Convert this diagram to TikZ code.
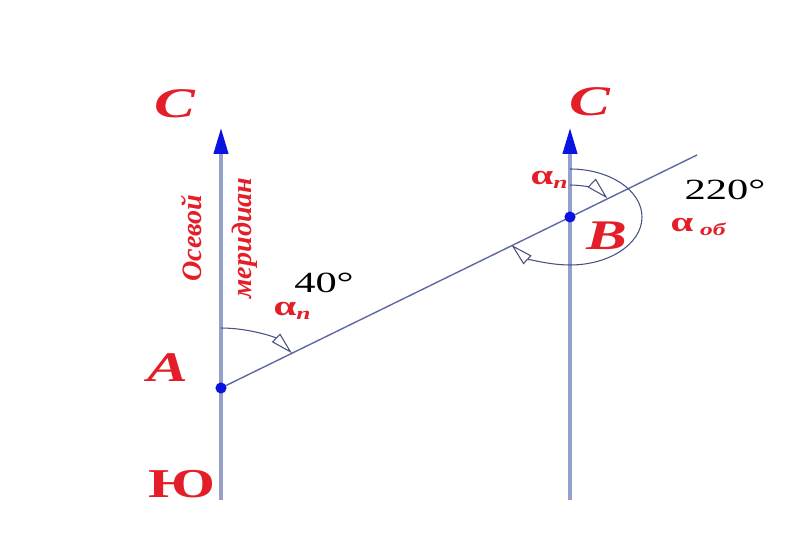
\documentclass[tikz,border=0pt]{standalone}
\usepackage{fontspec}
\setmainfont{Liberation Serif}
\usetikzlibrary{arrows.meta}
\definecolor{labred}{RGB}{228,30,40}
\definecolor{meridcol}{RGB}{150,160,205}
\definecolor{linecol}{RGB}{95,105,165}
\definecolor{arccol}{RGB}{70,80,130}
\definecolor{tipblue}{RGB}{10,20,225}
\newcommand{\subtxt}[1]{\raisebox{-4pt}{\fontsize{15}{15}\selectfont\bfseries\itshape #1}}
\begin{document}
\begin{tikzpicture}[
    x=0.03cm, y=0.03cm,
    meridian/.style={draw=meridcol, line width=3pt, -{Triangle[length=22pt, width=12pt, color=tipblue]}},
    bearing/.style={draw=linecol, line width=1.2pt},
    anglearc/.style={draw=arccol, line width=0.9pt, -{Triangle[open, length=19pt, width=10pt, fill=white]}},
    pointdot/.style={circle, fill=tipblue, inner sep=0pt, minimum size=9.5pt},
    bigletter/.style={text=labred, font=\fontsize{36}{36}\selectfont\bfseries\itshape, xscale=1.45},
    southlab/.style={text=labred, font=\fontsize{35}{35}\selectfont\bfseries, xscale=1.45},
    deglab/.style={text=black, font=\fontsize{25}{25}\selectfont, xscale=1.45},
    alphalab/.style={text=labred, font=\fontsize{24}{24}\selectfont\bfseries, xscale=1.45},
    meridlab/.style={text=labred, font=\fontsize{24}{24}\selectfont\bfseries\itshape, rotate=90},
]
\useasboundingbox[fill=white] (0,0) rectangle (812,540);

% points and line ends
\coordinate (A) at (221,152);
\coordinate (B) at (570,323);
\coordinate (s1) at (221,40);
\coordinate (n1) at (221,412);
\coordinate (s2) at (570,40);
\coordinate (n2) at (570,412);
\coordinate (lineend) at (697,385);
\coordinate (arcA) at (221,212);
\coordinate (arcB) at (570,355);
\coordinate (arcBB) at (570,371);

% meridians and the line AB
\draw[meridian] (s1) -- (n1);
\draw[meridian] (s2) -- (n2);
\draw[bearing] (A) -- (lineend);

% angles
\draw[anglearc] (arcA) arc[start angle=90, end angle=35.4, x radius=87, y radius=60];
\draw[anglearc] (arcB) arc[start angle=90, end angle=35.4, x radius=46, y radius=32];
\draw[anglearc] (arcBB) arc[start angle=90, end angle=-144.6, x radius=72, y radius=48];

\node[pointdot] (dotA) at (A) {};
\node[pointdot] (dotB) at (B) {};

% labels
\node[bigletter] (northA) at (175,436) {С};
\node[bigletter] (northB) at (590,438) {С};
\node[bigletter] (labA) at (168,172) {A};
\node[bigletter] (labB) at (607,304) {B};
\node[southlab] (south) at (182,56) {Ю};
\node[meridlab] (axis1) at (192,302) {Осевой};
\node[meridlab] (axis2) at (245,302) {меридиан};
\node[deglab] (deg40) at (324,257) {40°};
\node[deglab] (deg220) at (725,350) {220°};
\node[alphalab] (alA) at (292,229) {α\subtxt{п}};
\node[alphalab] (alB) at (549,360) {α\subtxt{п}};
\node[alphalab] (alback) at (698,313) {α\,\subtxt{об}};
\end{tikzpicture}
\end{document}
